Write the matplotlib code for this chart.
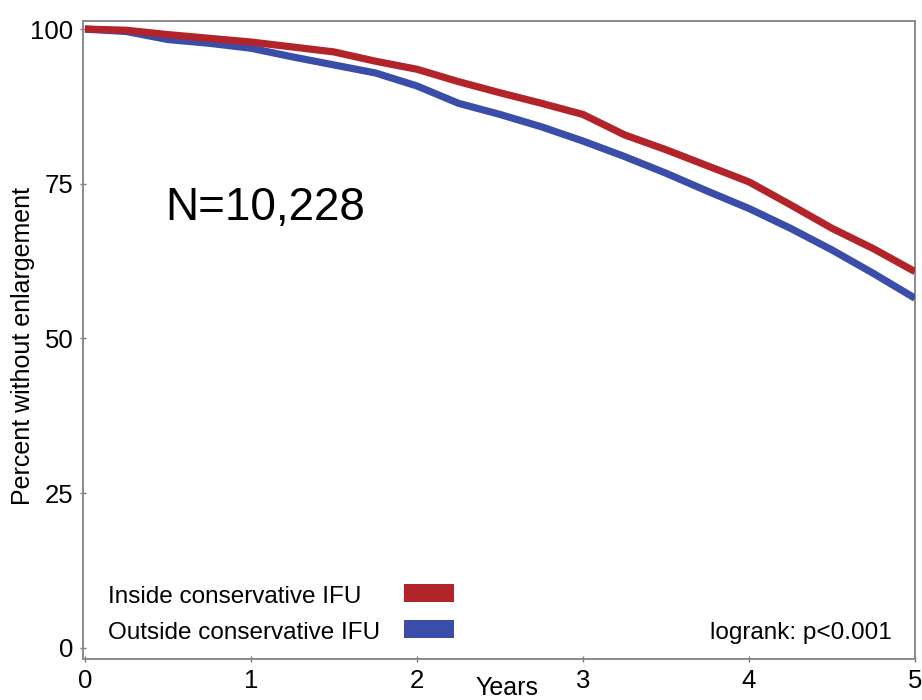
import matplotlib
matplotlib.use("Agg")
import matplotlib.pyplot as plt
from matplotlib.patches import Rectangle

years = [0, 0.25, 0.5, 0.75, 1.0, 1.25, 1.5, 1.75, 2.0, 2.25, 2.5, 2.75,
         3.0, 3.25, 3.5, 3.75, 4.0, 4.25, 4.5, 4.75, 5.0]
inside_ifu = [100, 99.8, 99.1, 98.5, 97.9, 97.1, 96.3, 94.8, 93.5, 91.5, 89.7, 88.0,
              86.2, 82.9, 80.5, 77.9, 75.3, 71.6, 67.8, 64.5, 60.8]
outside_ifu = [100, 99.6, 98.3, 97.7, 96.9, 95.5, 94.2, 92.9, 90.8, 88.0, 86.2, 84.2,
               81.9, 79.4, 76.7, 73.8, 71.0, 67.8, 64.3, 60.5, 56.5]
labels = ["Inside conservative IFU", "Outside conservative IFU"]
xticks = [0, 1, 2, 3, 4, 5]
yticks = [0, 25, 50, 75, 100]

RED = "#B3232A"
BLUE = "#3A4DA8"
FONT = ["Liberation Sans", "DejaVu Sans"]

fig = plt.figure(figsize=(9.22, 7.0), dpi=100)
ax = fig.add_axes([83 / 922, 41 / 700, 832 / 922, 638 / 700])

ax.plot(years, outside_ifu, color=BLUE, lw=5.2, solid_capstyle="butt", zorder=3)
ax.plot(years, inside_ifu, color=RED, lw=5.2, solid_capstyle="butt", zorder=4)

ax.set_xlim(-0.012, 5.0)
ax.set_ylim(-1.8, 101.3)
ax.set_xticks(xticks)
ax.set_yticks(yticks)
ax.set_xticklabels([str(t) for t in xticks], family=FONT, fontsize=18.5)
ax.set_yticklabels([str(t) for t in yticks], family=FONT, fontsize=18.5)
ax.tick_params(axis="both", direction="inout", length=4, width=1, color="#777777", pad=5)

for s in ax.spines.values():
    s.set_color("#8a8a8a")
    s.set_linewidth(1.4)

ax.set_ylabel("Percent without enlargement", family=FONT, fontsize=18)
ax.yaxis.set_label_coords(-0.058, 0.49)

ax.text(0.51, -0.056, "Years", transform=ax.transAxes, family=FONT, fontsize=18,
        ha="center", va="baseline")

ax.text(0.0986, 0.688, "N=10,228", transform=ax.transAxes, family=FONT,
        fontsize=33, ha="left", va="baseline")

ax.text(0.972, 0.031, "logrank: p<0.001", transform=ax.transAxes, family=FONT,
        fontsize=17.5, ha="right", va="baseline")

# legend (text left-aligned, color patches aligned to the right)
leg_rows = [(labels[0], RED, 0.0878, 0.0893), (labels[1], BLUE, 0.0313, 0.0329)]
for text, col, base, pbot in leg_rows:
    ax.text(0.030, base, text, transform=ax.transAxes, family=FONT, fontsize=17.5,
            ha="left", va="baseline")
    ax.add_patch(Rectangle((0.386, pbot), 0.060, 0.029, transform=ax.transAxes,
                           facecolor=col, edgecolor="none", clip_on=False))

fig.savefig("out.png", dpi=100)
